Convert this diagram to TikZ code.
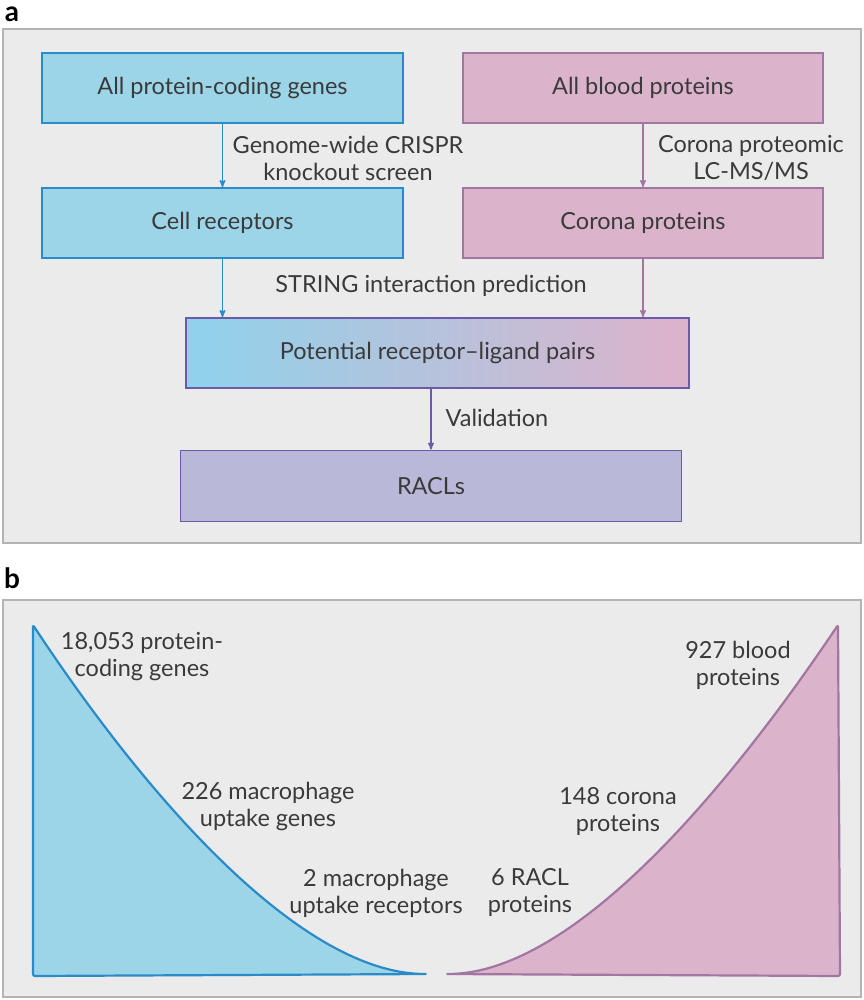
\documentclass[tikz,border=0pt]{standalone}
\usepackage{fontspec}
\setmainfont{Lato}
\usepackage{tikz}
\usetikzlibrary{arrows}
\usetikzlibrary{positioning}
\definecolor{textgray}{HTML}{3A3A3A}
\definecolor{panelgray}{HTML}{EBEBEB}
\definecolor{panelline}{HTML}{B4B4B4}
\definecolor{genefill}{HTML}{9CD5E8}
\definecolor{geneline}{HTML}{2A8BC9}
\definecolor{bloodfill}{HTML}{DBB4CC}
\definecolor{bloodline}{HTML}{A275A2}
\definecolor{pairleft}{HTML}{8FD2EC}
\definecolor{pairright}{HTML}{DEB2CB}
\definecolor{pairline}{HTML}{6A5AA8}
\definecolor{raclfill}{HTML}{BAB8D8}
\tikzset{->, > = stealth', x = 1pt, y = -1pt,
  every node/.style = {font = \fontsize{23.5}{27}\selectfont, text = textgray, align = center},
  panel/.style = {draw = panelline, fill = panelgray, line width = 1.5pt, -},
  tag/.style = {font = \fontsize{28}{28}\selectfont\bfseries, text = black, inner sep = 0pt},
  box/.style = {draw, line width = 1.8pt, minimum height = 70pt},
  genebox/.style = {box, fill = genefill, draw = geneline, minimum width = 361pt},
  bloodbox/.style = {box, fill = bloodfill, draw = bloodline, minimum width = 360pt},
  pairbox/.style = {box, left color = pairleft, right color = pairright, draw = pairline, minimum width = 503pt},
  raclbox/.style = {box, fill = raclfill, draw = pairline, minimum width = 501pt, minimum height = 71pt},
  genearrow/.style = {draw = geneline, line width = 1.4pt},
  bloodarrow/.style = {draw = bloodline, line width = 1.4pt},
  pairarrow/.style = {draw = pairline, line width = 1.4pt},
  funnel/.style = {-, line width = 2.2pt, line join = round, rounded corners = 2pt}}

\begin{document}
\begin{tikzpicture}
    \useasboundingbox (0,0) rectangle (863,1000);
    % panel a
    \node [tag] (taga) at (12,14) {a};
    \draw [panel] (3,29) rectangle (861,543);
    \node [genebox] (allgenes) at (222.5,88) {All protein-coding genes};
    \node [bloodbox] (allblood) at (643,88) {All blood proteins};
    \node [genebox] (receptors) at (222.5,223) {Cell receptors};
    \node [bloodbox] (corona) at (643,223) {Corona proteins};
    \node [pairbox] (pairs) at (437.5,353) {Potential receptor--ligand pairs};
    \node [raclbox] (racls) at (431,486) {RACLs};
    \node (crispr) at (348,158) {Genome-wide CRISPR\\knockout screen};
    \node (proteomic) at (751,158) {Corona proteomic\\LC-MS/MS};
    \node (string) at (431,286) {STRING interaction prediction};
    \node (valid) at (497,418) {Validation};
    % paths
    \draw [genearrow] (allgenes) -- (receptors);
    \draw [bloodarrow] (allblood) -- (corona);
    \draw [genearrow] (receptors.south) -- (receptors.south |- pairs.north);
    \draw [bloodarrow] (corona.south) -- (corona.south |- pairs.north);
    \draw [pairarrow] (pairs.south -| racls) -- (racls);
    % panel b
    \node [tag] (tagb) at (12,578) {b};
    \draw [panel] (3,600) rectangle (861,997);
    \draw [funnel, draw = geneline, fill = genefill]
      (33,625) .. controls (145,795) and (300,974) .. (427,974)
      -- (33,976) -- cycle;
    \draw [funnel, draw = bloodline, fill = bloodfill]
      (838,625) .. controls (724,795) and (571,974) .. (446,974)
      -- (840,976) -- cycle;
    \node (genecount) at (142,657) {18,053 protein-\\coding genes};
    \node (uptakecount) at (268,806) {226 macrophage\\uptake genes};
    \node (receptorcount) at (376,893) {2 macrophage\\uptake receptors};
    \node (bloodcount) at (738,665) {927 blood\\proteins};
    \node (coronacount) at (618,811) {148 corona\\proteins};
    \node (raclcount) at (530,892) {6 RACL\\proteins};
\end{tikzpicture}
\end{document}
